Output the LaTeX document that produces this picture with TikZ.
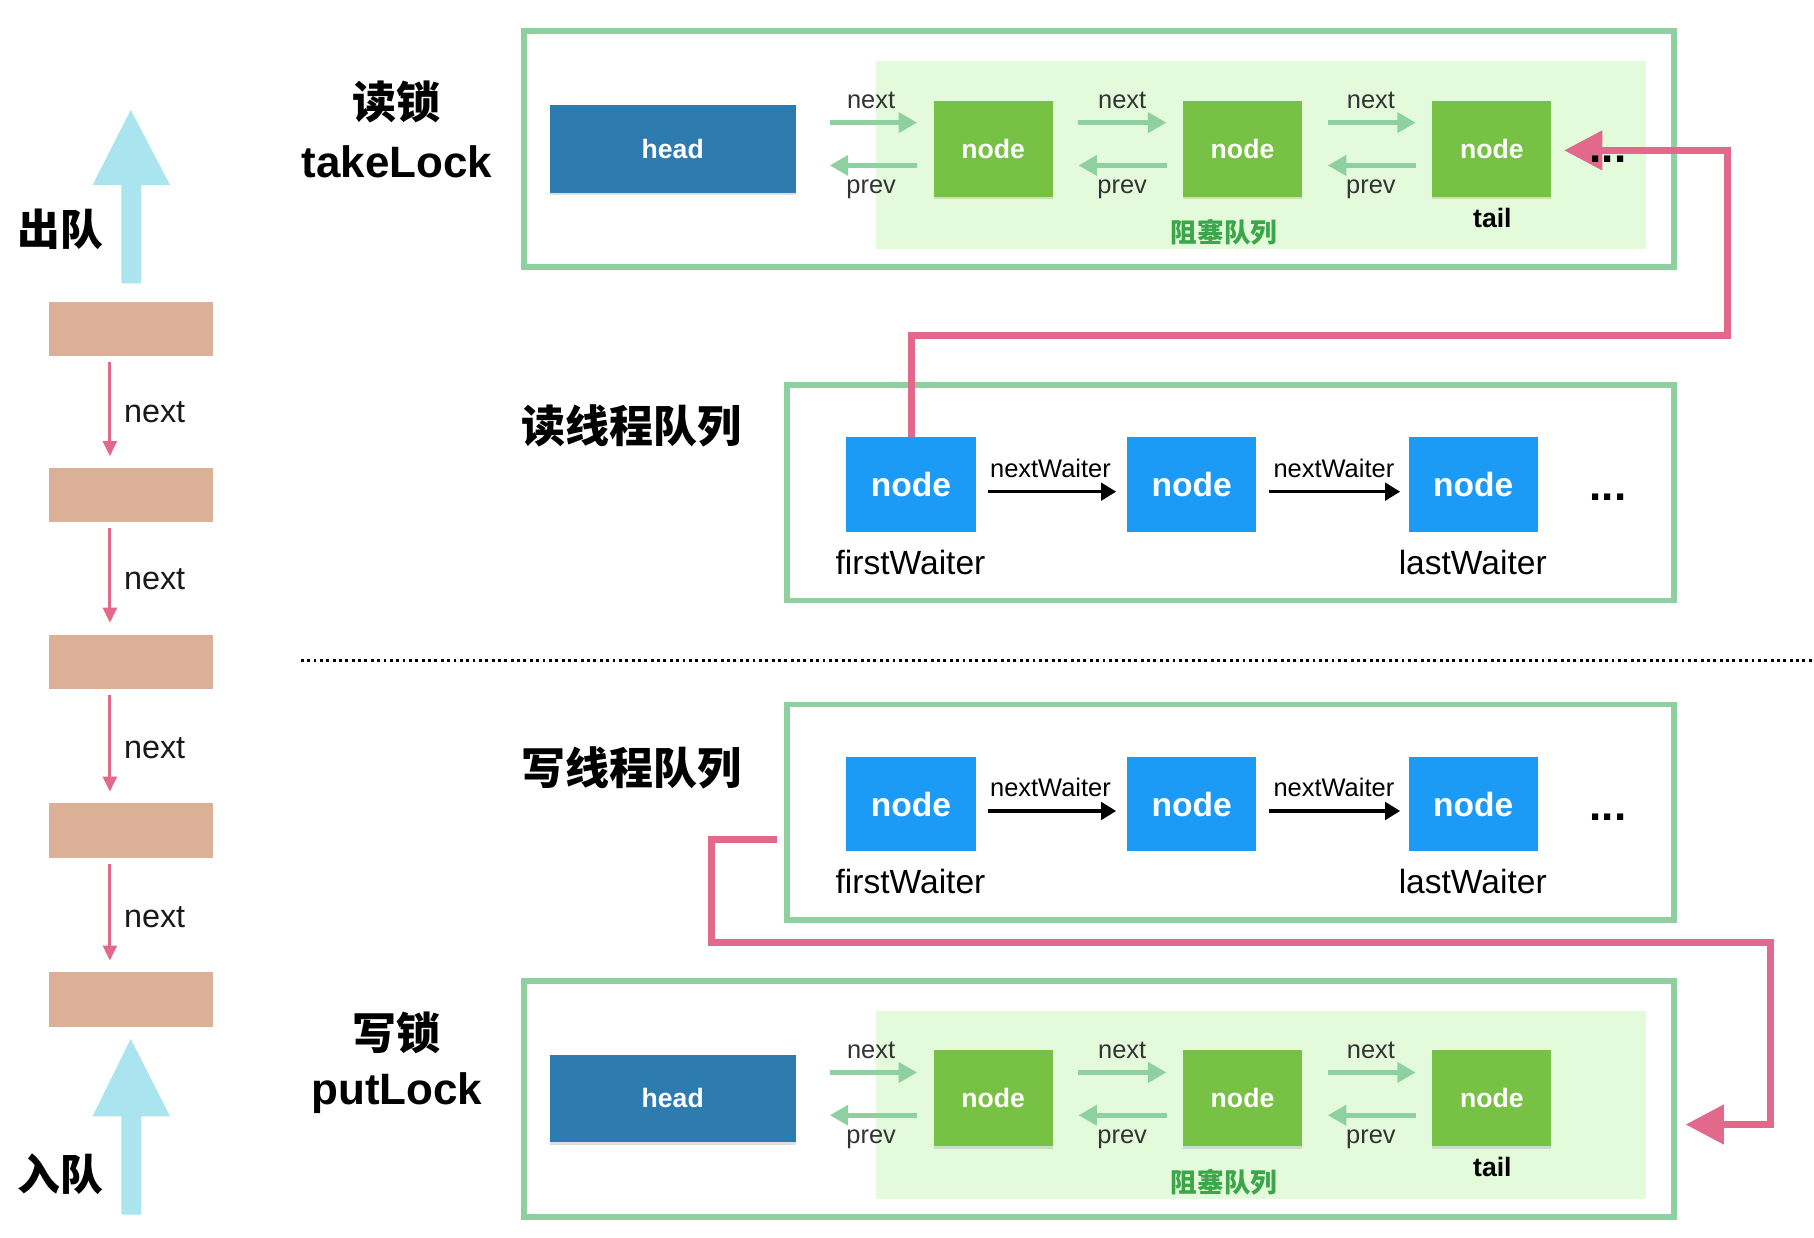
\documentclass[tikz,border=0pt]{standalone}
\usepackage{fontspec}
\setmainfont{Liberation Sans}
\newfontfamily\cjk{Noto Sans CJK SC}
\usetikzlibrary{arrows.meta,shadows}
\definecolor{frameg}{HTML}{8ED0A0}
\definecolor{bgg}{HTML}{E3FBDB}
\definecolor{headblue}{HTML}{2E7BB0}
\definecolor{nodeg}{HTML}{77C144}
\definecolor{nodeb}{HTML}{1C9BF6}
\definecolor{linkg}{HTML}{8ED0A0}
\definecolor{pinkc}{HTML}{E2698B}
\definecolor{brickc}{HTML}{DBB096}
\definecolor{skyc}{HTML}{A9E4EF}
\definecolor{labelg}{HTML}{3CA64B}
\definecolor{txtgray}{HTML}{333333}
\newcommand\fs[1]{\fontsize{#1}{#1}\selectfont}
\tikzset{
  frame/.style={draw=frameg, line width=5pt, inner sep=0},
  bgbox/.style={fill=bgg, inner sep=0},
  headbox/.style={fill=headblue, minimum width=213pt, minimum height=76pt, inner sep=0,
    text=white, font=\bfseries\fs{23}, drop shadow={shadow xshift=0pt, shadow yshift=-2pt, opacity=0.25}},
  gbox/.style={fill=nodeg, minimum width=103pt, minimum height=83pt, inner sep=0,
    text=white, font=\bfseries\fs{23}, drop shadow={shadow xshift=0pt, shadow yshift=-2pt, opacity=0.25}},
  bbox/.style={fill=nodeb, minimum width=112pt, minimum height=82pt, inner sep=0,
    text=white, font=\bfseries\fs{29}},
  brick/.style={fill=brickc, minimum width=142pt, minimum height=47pt, inner sep=0},
  glink/.style={draw=linkg, line width=4.5pt, -{Triangle[length=16pt,width=17pt]}},
  klink/.style={draw=black, line width=3pt, -{Triangle[length=13pt,width=15pt]}},
  plink/.style={draw=pinkc, line width=2.5pt, -{Triangle[length=13pt,width=12pt]}},
  pinkpath/.style={draw=pinkc, line width=6pt, line join=miter, -{Triangle[length=33pt,width=33pt]}},
  smalllbl/.style={inner sep=0, text=txtgray, font=\fs{22}},
  wlbl/.style={inner sep=0, text=black, font=\fs{29}},
  taillbl/.style={inner sep=0, text=black, font=\bfseries\fs{23}},
  qlbl/.style={inner sep=0, text=labelg, font=\cjk\bfseries\fs{23}},
  dots/.style={inner sep=0, text=black, font=\bfseries\fs{38}},
  titlecn/.style={inner sep=0, text=black, font=\cjk\bfseries\fs{38}},
  titleen/.style={inner sep=0, text=black, font=\bfseries\fs{38}},
  sidelbl/.style={inner sep=0, text=black!90, font=\fs{28}, anchor=west},
  sidecn/.style={inner sep=0, text=black, font=\cjk\bfseries\fs{37}},
}
\newcommand\lockpanel[2]{%
\begin{scope}[yshift=#2]
  \node[frame, minimum width=994pt, minimum height=204pt] (#1F) at (950,129) {};
  \node[bgbox, minimum width=666pt, minimum height=162pt] (#1B) at (1090,134) {};
  \node[headbox] (#1H) at (581.5,128.5) {head};
  \node[gbox] (#1N1) at (858.5,128.5) {node};
  \node[gbox] (#1N2) at (1074,128.5) {node};
  \node[gbox] (#1N3) at (1289.5,128.5) {node};
  \draw[glink, shorten <=29pt, shorten >=14pt] ([yshift=22.5pt]#1H.east) -- ([yshift=22.5pt]#1N1.west);
  \draw[glink, shorten <=14pt, shorten >=29pt] ([yshift=-14.5pt]#1N1.west) -- ([yshift=-14.5pt]#1H.east);
  \draw[glink, shorten <=22pt, shorten >=14pt] ([yshift=22.5pt]#1N1.east) -- ([yshift=22.5pt]#1N2.west);
  \draw[glink, shorten <=14pt, shorten >=22pt] ([yshift=-14.5pt]#1N2.west) -- ([yshift=-14.5pt]#1N1.east);
  \draw[glink, shorten <=22pt, shorten >=14pt] ([yshift=22.5pt]#1N2.east) -- ([yshift=22.5pt]#1N3.west);
  \draw[glink, shorten <=14pt, shorten >=22pt] ([yshift=-14.5pt]#1N3.west) -- ([yshift=-14.5pt]#1N2.east);
  \node[smalllbl] (#1n1) at (753,87) {next};
  \node[smalllbl] (#1p1) at (753,164) {prev};
  \node[smalllbl] (#1n2) at (970,87) {next};
  \node[smalllbl] (#1p2) at (970,164) {prev};
  \node[smalllbl] (#1n3) at (1185,87) {next};
  \node[smalllbl] (#1p3) at (1185,164) {prev};
  \node[taillbl] (#1T) at (1290,188) {tail};
  \node[qlbl] (#1Q) at (1058,201) {阻塞队列};
\end{scope}}
\newcommand\queuepanel[2]{%
\begin{scope}[yshift=#2]
  \node[frame, minimum width=767pt, minimum height=186pt] (#1F) at (1063.5,426) {};
  \node[bbox] (#1N1) at (787.5,419) {node};
  \node[bbox] (#1N2) at (1030,419) {node};
  \node[bbox] (#1N3) at (1273.5,419) {node};
  \draw[klink, shorten <=10pt, shorten >=9pt] ([yshift=-6pt]#1N1.east) -- ([yshift=-6pt]#1N2.west);
  \draw[klink, shorten <=11pt, shorten >=7pt] ([yshift=-6pt]#1N2.east) -- ([yshift=-6pt]#1N3.west);
  \node[smalllbl, text=black] (#1w1) at (908,405) {nextWaiter};
  \node[smalllbl, text=black] (#1w2) at (1153,405) {nextWaiter};
  \node[wlbl] (#1fw) at (787,486) {firstWaiter};
  \node[wlbl] (#1lw) at (1273,486) {lastWaiter};
  \node[dots] (#1D) at (1390,430) {...};
\end{scope}}
\begin{document}
\begin{tikzpicture}[x=1pt,y=-1pt]
\useasboundingbox[fill=white] (0,0) rectangle (1568,1070);
% left column
\fill[skyc] (105,245) -- (105,160) -- (80,160) -- (113,95) -- (147,160) -- (122,160) -- (122,245) -- cycle;
\fill[skyc] (105,1050) -- (105,965) -- (80,965) -- (113,898) -- (147,965) -- (122,965) -- (122,1050) -- cycle;
\node[sidecn] (outq) at (52,198) {出队};
\node[sidecn] (inq) at (52,1015) {入队};
\node[brick] (b1) at (113,284.5) {};
\node[brick] (b2) at (113,428) {};
\node[brick] (b3) at (113,572) {};
\node[brick] (b4) at (113,718) {};
\node[brick] (b5) at (113,864) {};
\foreach \a/\b/\m in {b1/b2/356, b2/b3/501, b3/b4/647, b4/b5/793}{
  \draw[plink, shorten <=5pt, shorten >=10pt] ([xshift=-18pt]\a.south) -- ([xshift=-18pt]\b.north);
  \node[sidelbl] at (107,\m) {next};
}
% titles
\node[titlecn] (t1) at (343,88) {读锁};
\node[titleen] (t2) at (343,140) {takeLock};
\node[titlecn] (t3) at (546,368) {读线程队列};
\node[titlecn] (t4) at (546,664) {写线程队列};
\node[titlecn] (t5) at (343,893) {写锁};
\node[titleen] (t6) at (343,945) {putLock};
% panels
\lockpanel{k}{0pt}
\queuepanel{r}{0pt}
\queuepanel{w}{-276pt}
\lockpanel{p}{-821pt}
% separator
\coordinate (sepL) at (260,571);
\coordinate (sepR) at (1568,571);
\draw[black, line width=2.5pt, dash pattern=on 2.5pt off 3pt] (sepL) -- (sepR);
% pink connectors
\coordinate (pk1) at (1493,290);
\coordinate (tipTop) at (1352,130);
\draw[pinkpath] (rN1.north) |- (pk1) |- (tipTop);
\node[dots] (kD) at (1390,138) {...};
\coordinate (wS) at (672,726);
\coordinate (pk2) at (615,726);
\coordinate (pk3) at (1530,815);
\coordinate (tipBot) at (1457,972);
\draw[pinkpath] (wS) -- (pk2) |- (pk3) |- (tipBot);
\end{tikzpicture}
\end{document}
